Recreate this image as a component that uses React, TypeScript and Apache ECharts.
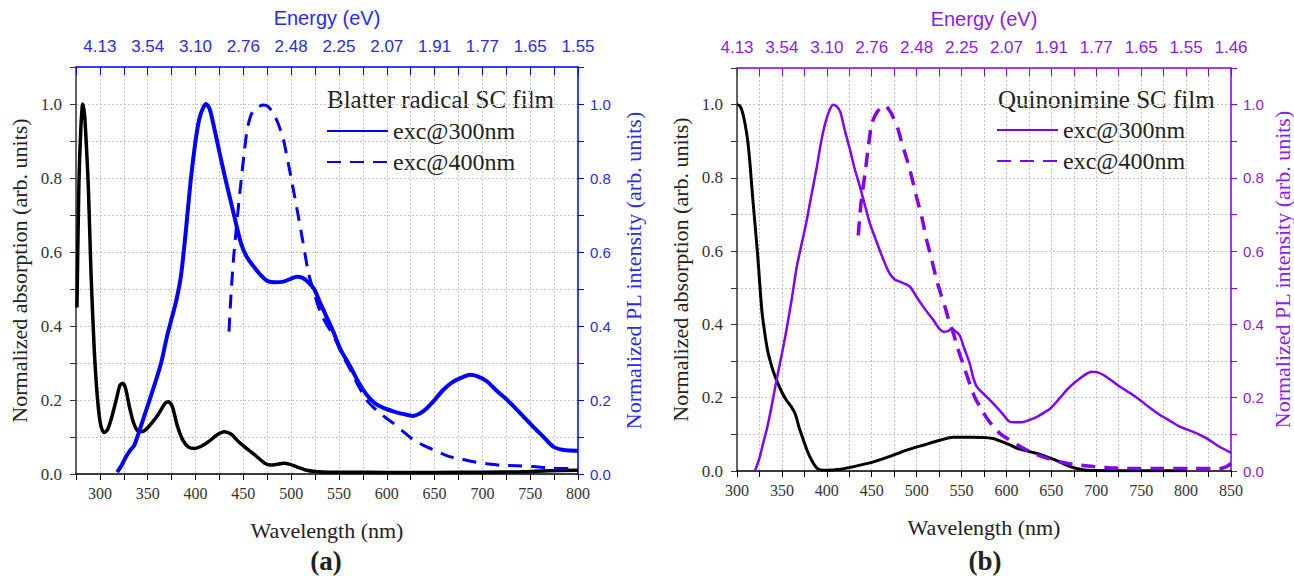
import React, { useEffect, useRef } from "react";
import * as echarts from "echarts";

// ---------- DATA ----------
// Panel (a): Blatter radical SC film
const absA: number[][] = [
  [276, 0.45], [278, 0.78], [280, 0.93], [282, 1.0], [284, 0.97], [286, 0.88], [288, 0.77], [290.6, 0.55],
  [294, 0.34], [297.6, 0.2], [301, 0.13], [304.5, 0.112], [308, 0.12], [312, 0.15], [317, 0.2], [321, 0.24],
  [324, 0.245], [327, 0.23], [331, 0.18], [335, 0.14], [339, 0.118], [343, 0.114], [348, 0.12], [355, 0.14],
  [362, 0.165], [368, 0.19], [372, 0.195], [376, 0.18], [381, 0.13], [387, 0.09], [393, 0.072], [399, 0.069],
  [406, 0.075], [414, 0.088], [422, 0.105], [430, 0.114], [437, 0.108], [444, 0.09], [451, 0.074], [458, 0.06],
  [465, 0.045], [472, 0.03], [478, 0.024], [485, 0.026], [492, 0.029], [499, 0.026], [507, 0.018], [515, 0.011],
  [525, 0.007], [540, 0.005], [560, 0.005], [600, 0.004], [650, 0.004], [700, 0.005], [740, 0.006], [770, 0.009],
  [800, 0.01],
];
const plA300: number[][] = [
  [318, 0.005], [322, 0.02], [327, 0.045], [332, 0.065], [336, 0.078], [343, 0.13], [350, 0.185], [357, 0.24],
  [364, 0.3], [370, 0.37], [375, 0.42], [380, 0.47], [385, 0.54], [390, 0.66], [395, 0.795], [400, 0.9],
  [404, 0.96], [408, 0.99], [411, 1.0], [415, 0.985], [420, 0.93], [425, 0.87], [431, 0.8], [437, 0.735],
  [443, 0.67], [448, 0.62], [454, 0.585], [461, 0.56], [468, 0.538], [475, 0.522], [483, 0.518], [492, 0.52],
  [500, 0.528], [506, 0.533], [512, 0.53], [518, 0.518], [524, 0.5], [530, 0.465], [537, 0.425], [544, 0.385],
  [552, 0.335], [562, 0.29], [570, 0.25], [579, 0.214], [588, 0.19], [597, 0.178], [606, 0.17], [614, 0.164],
  [621, 0.16], [627, 0.157], [634, 0.163], [642, 0.178], [650, 0.2], [659, 0.227], [668, 0.247], [677, 0.259],
  [687, 0.268], [695, 0.264], [705, 0.25], [715, 0.225], [726, 0.2], [740, 0.163], [753, 0.128], [764, 0.1],
  [774, 0.074], [785, 0.065], [800, 0.063],
];
const plA400: number[][] = [
  [435, 0.385], [437, 0.48], [440, 0.59], [444, 0.7], [447, 0.776], [451, 0.87], [454, 0.93], [458, 0.97],
  [463, 0.988], [471, 0.997], [476, 0.993], [480, 0.98], [486, 0.95], [492, 0.903], [497, 0.84], [503, 0.759],
  [508, 0.69], [512, 0.632], [518, 0.545], [524, 0.49], [531, 0.434], [537, 0.405], [545, 0.37], [553, 0.325],
  [562, 0.281], [570, 0.24], [579, 0.2], [586, 0.18], [593, 0.164], [600, 0.15], [607, 0.137], [617, 0.115],
  [628, 0.092], [638, 0.078], [649, 0.065], [658, 0.055], [666, 0.047], [678, 0.04], [691, 0.033], [705, 0.028],
  [719, 0.024], [736, 0.022], [753, 0.02], [768, 0.017], [781, 0.015], [790, 0.015],
];

// Panel (b): Quinonimine SC film
const absB: number[][] = [
  [300, 1.0], [303, 0.997], [306, 0.98], [309, 0.947], [312, 0.9], [314.5, 0.838], [317, 0.76], [320, 0.675],
  [323, 0.59], [325.6, 0.502], [328, 0.43], [331, 0.375], [334, 0.33], [337, 0.3], [340, 0.275], [344, 0.248],
  [350, 0.215], [355, 0.193], [360, 0.177], [365, 0.155], [369, 0.12], [374, 0.084], [379, 0.05], [385, 0.021],
  [389, 0.008], [393, 0.003], [400, 0.002], [415, 0.005], [430, 0.012], [452, 0.025], [470, 0.04], [489, 0.057],
  [508, 0.071], [526, 0.084], [541, 0.092], [560, 0.092], [585, 0.089], [595, 0.08], [604, 0.071], [612, 0.062],
  [619, 0.057], [634, 0.048], [649, 0.035], [660, 0.024], [667, 0.016], [675, 0.009], [682, 0.005], [690, 0.002],
  [720, 0.001], [760, 0.001], [800, 0.001],
];
const plB300: number[][] = [
  [320, 0.0], [325, 0.035], [329, 0.075], [333, 0.112], [338, 0.17], [344, 0.248], [350, 0.32], [355, 0.384],
  [361, 0.47], [366.5, 0.557], [372, 0.62], [377.6, 0.684], [383, 0.755], [388.8, 0.829], [393, 0.89], [398, 0.947],
  [403, 0.985], [407, 1.0], [411, 0.995], [415, 0.98], [420, 0.93], [426, 0.875], [431, 0.825], [437, 0.775],
  [443, 0.72], [448, 0.675], [454, 0.635], [459, 0.602], [465, 0.565], [470, 0.539], [476, 0.522], [482, 0.516],
  [488, 0.51], [493, 0.502], [500, 0.475], [507.5, 0.448], [513, 0.43], [519, 0.411], [524, 0.392], [530, 0.38],
  [535, 0.382], [539, 0.389], [544, 0.38], [548, 0.37], [553, 0.335], [559.5, 0.29], [563, 0.255], [567, 0.23],
  [576, 0.207], [585.5, 0.184], [595, 0.158], [604, 0.134], [612, 0.133], [619, 0.134], [626, 0.14], [634, 0.148],
  [641, 0.158], [649, 0.171], [658, 0.195], [667, 0.221], [675, 0.24], [682, 0.253], [689, 0.265], [695, 0.271],
  [701, 0.27], [708, 0.262], [717, 0.247], [726.5, 0.23], [738, 0.212], [749, 0.193], [760, 0.172], [771, 0.153],
  [782, 0.137], [793, 0.121], [808, 0.107], [816, 0.098], [823, 0.089], [834, 0.071], [842, 0.06], [850, 0.05],
];
const plB400: number[][] = [
  [435, 0.643], [438, 0.73], [442.5, 0.811], [446, 0.88], [450, 0.947], [455.6, 0.979], [460, 0.99], [465, 0.997],
  [470, 0.983], [474, 0.965], [479, 0.935], [483.4, 0.897], [488, 0.86], [492.7, 0.82], [500, 0.747], [506, 0.69],
  [511.3, 0.629], [517, 0.575], [522.4, 0.52], [527, 0.483], [531.6, 0.448], [536, 0.41], [541, 0.375], [546, 0.333],
  [552, 0.29], [559.5, 0.235], [565, 0.2], [570.6, 0.175], [578, 0.145], [585.5, 0.121], [594, 0.1], [604, 0.084],
  [613, 0.07], [622.6, 0.057], [634, 0.045], [645, 0.035], [656, 0.027], [667, 0.021], [682, 0.016], [697, 0.012],
  [715, 0.009], [734, 0.007], [771, 0.007], [808, 0.007], [838, 0.007], [845, 0.012], [850, 0.021],
];

// Tick labels
const waveTicksA = [300, 350, 400, 450, 500, 550, 600, 650, 700, 750, 800];
const energyLabelsA = ["4.13", "3.54", "3.10", "2.76", "2.48", "2.25", "2.07", "1.91", "1.77", "1.65", "1.55"];
const waveTicksB = [300, 350, 400, 450, 500, 550, 600, 650, 700, 750, 800, 850];
const energyLabelsB = ["4.13", "3.54", "3.10", "2.76", "2.48", "2.25", "2.07", "1.91", "1.77", "1.65", "1.55", "1.46"];
const yTickLabels = ["0.0", "0.2", "0.4", "0.6", "0.8", "1.0"];

const legendText: Record<string, string> = {
  a300: "exc@300nm", a400: "exc@400nm", b300: "exc@300nm", b400: "exc@400nm",
};

// ---------- STYLE ----------
const SERIF = "Liberation Serif";
const SANS = "Liberation Sans";
const BLUE = "#0000ff";
const BLUE_TXT = "#2a2aff";
const PURPLE = "#8000ff";
const PURPLE_TXT = "#8a1aff";
const DARK = "#333333";
const GRIDC = "#c4c4c4";

const yFmt = (v: number) => {
  const k = Math.round(v * 10);
  return k % 2 === 0 && k / 2 < yTickLabels.length ? yTickLabels[k / 2] : "";
};

function bottomX(gridIndex: number, min: number, max: number) {
  return {
    type: "value", gridIndex, position: "bottom", min, max, interval: 25,
    name: "Wavelength (nm)", nameLocation: "middle", nameGap: 45,
    nameTextStyle: { fontFamily: SERIF, fontSize: 22, color: "#222" },
    axisLine: { show: true, onZero: false, lineStyle: { color: "#000", width: 1.5 } },
    axisTick: { show: true, inside: false, length: 6, lineStyle: { color: "#000" } },
    axisLabel: {
      margin: 11, fontFamily: SERIF, fontSize: 16, color: DARK,
      formatter: (v: number) => (v % 50 === 0 ? String(v) : ""),
    },
    splitLine: { show: true, lineStyle: { color: GRIDC, type: [2, 2], width: 1 } },
  };
}

function topX(gridIndex: number, min: number, max: number, ticks: number[], labels: string[], color: string, txt: string) {
  return {
    type: "value", gridIndex, position: "top", min, max, interval: 25,
    name: "Energy (eV)", nameLocation: "middle", nameGap: 39,
    nameTextStyle: { fontFamily: SANS, fontSize: 20, color: txt },
    axisLine: { show: true, onZero: false, lineStyle: { color, width: 1.5 } },
    axisTick: { show: true, inside: true, length: 8, lineStyle: { color } },
    axisLabel: {
      margin: 12, fontFamily: SANS, fontSize: 17, color: txt,
      formatter: (v: number) => {
        const i = ticks.indexOf(v);
        return i >= 0 ? labels[i] : "";
      },
    },
    splitLine: { show: false },
  };
}

function leftY(gridIndex: number) {
  return {
    type: "value", gridIndex, position: "left", min: 0, max: 1.1, interval: 0.1,
    name: "Normalized absorption (arb. units)", nameLocation: "middle", nameGap: 46, nameRotate: 90,
    nameTextStyle: { fontFamily: SERIF, fontSize: 22, color: "#222" },
    axisLine: { show: true, onZero: false, lineStyle: { color: "#333", width: 1.5 } },
    axisTick: { show: true, inside: false, length: 6, lineStyle: { color: "#333" } },
    axisLabel: { margin: 14, fontFamily: SERIF, fontSize: 17, color: DARK, formatter: yFmt },
    splitLine: { show: true, lineStyle: { color: GRIDC, type: [2, 2], width: 1 } },
  };
}

function rightY(gridIndex: number, color: string, txt: string, gap: number) {
  return {
    type: "value", gridIndex, position: "right", min: 0, max: 1.1, interval: 0.1,
    name: "Normalized PL intensity (arb. units)", nameLocation: "middle", nameGap: gap, nameRotate: 90,
    nameTextStyle: { fontFamily: SERIF, fontSize: 22, color: txt },
    axisLine: { show: true, onZero: false, lineStyle: { color, width: 1.5 } },
    axisTick: { show: true, inside: false, length: 6, lineStyle: { color } },
    axisLabel: { margin: 12, fontFamily: SANS, fontSize: 15, color: txt, formatter: yFmt },
    splitLine: { show: false },
  };
}

function line(name: string, data: number[][], x: number, y: number, color: string, width: number, dashed: boolean, z: number) {
  return {
    type: "line", name, data, xAxisIndex: x, yAxisIndex: y, symbol: "none", smooth: 0.25, z,
    lineStyle: { color, width, type: dashed ? [14, 9] : "solid" },
    itemStyle: { color },
  };
}

export default function App() {
  const ref = useRef<HTMLDivElement>(null);
  useEffect(() => {
    if (!ref.current) return;
    const chart = echarts.init(ref.current, undefined, { renderer: "svg" });
    const legendCommon = {
      orient: "vertical", itemWidth: 61, itemHeight: 14, itemGap: 7, padding: 0, selectedMode: false,
      formatter: (n: string) => legendText[n],
      itemStyle: { opacity: 0, borderWidth: 0 },
      textStyle: { fontFamily: SERIF, fontSize: 24, color: "#222", lineHeight: 24 },
    };
    chart.setOption({
      animation: false,
      backgroundColor: "#ffffff",
      textStyle: { fontFamily: SERIF },
      grid: [
        { left: 76, top: 67, width: 502, height: 407 },
        { left: 737, top: 68, width: 494, height: 403 },
      ],
      xAxis: [
        bottomX(0, 275, 800),
        topX(0, 275, 800, waveTicksA, energyLabelsA, BLUE, BLUE_TXT),
        bottomX(1, 300, 850),
        topX(1, 300, 850, waveTicksB, energyLabelsB, PURPLE, PURPLE_TXT),
      ],
      yAxis: [leftY(0), rightY(0, BLUE, BLUE_TXT, 44), leftY(1), rightY(1, PURPLE, PURPLE_TXT, 40)],
      legend: [
        { ...legendCommon, left: 326, top: 119, data: ["a300", "a400"] },
        { ...legendCommon, left: 996, top: 118, data: ["b300", "b400"] },
      ],
      graphic: [
        { type: "text", left: 327, top: 87, style: { text: "Blatter radical SC film", fontFamily: SERIF, fontSize: 25, fill: "#222" } },
        { type: "text", left: 998, top: 87, style: { text: "Quinonimine SC film", fontFamily: SERIF, fontSize: 25, fill: "#222" } },
        { type: "text", x: 326, y: 561, style: { text: "(a)", fontFamily: SERIF, fontSize: 27, fontWeight: "bold", fill: "#222", align: "center", verticalAlign: "middle" } },
        { type: "text", x: 985, y: 561, style: { text: "(b)", fontFamily: SERIF, fontSize: 27, fontWeight: "bold", fill: "#222", align: "center", verticalAlign: "middle" } },
      ],
      series: [
        line("absA", absA, 0, 0, "#000000", 3.5, false, 3),
        line("a300", plA300, 0, 1, BLUE, 4, false, 4),
        line("a400", plA400, 0, 1, BLUE, 3, true, 4),
        line("absB", absB, 2, 2, "#000000", 3, false, 3),
        line("b300", plB300, 2, 3, PURPLE, 2.5, false, 4),
        line("b400", plB400, 2, 3, PURPLE, 3.5, true, 4),
      ],
    });
    return () => chart.dispose();
  }, []);
  return <div ref={ref} style={{ position: "fixed", left: 0, top: 0, width: 1294, height: 576, background: "#fff" }} />;
}
